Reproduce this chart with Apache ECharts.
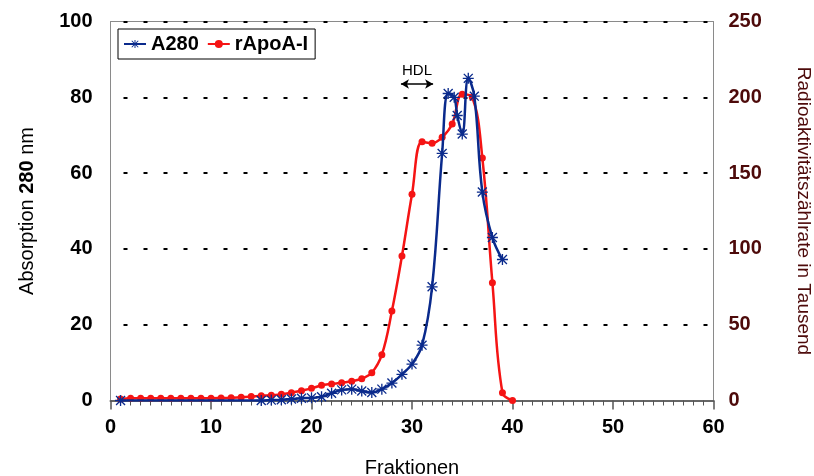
<!DOCTYPE html>
<html>
<head>
<meta charset="utf-8">
<script src="https://cdn.jsdelivr.net/npm/echarts@6/dist/echarts.min.js"></script>
<style>
html,body{margin:0;padding:0;background:#fff;}
#chart{width:814px;height:476px;}
</style>
</head>
<body>
<div id="chart"></div>
<script>
// ---- data ----
var fractionsA280 = [1, 15, 16, 17, 18, 19, 20, 21, 22, 23, 24, 25, 26, 27, 28, 29, 30, 31, 32, 33, 33.6, 34.2, 34.5, 35, 35.6, 36.2, 37, 38, 39];
var a280 = [0, 0, 0.1, 0.2, 0.4, 0.6, 0.7, 1.0, 1.9, 2.8, 3.0, 2.5, 2.1, 3.0, 4.6, 6.9, 9.6, 14.6, 30.0, 65.2, 81, 80, 75.2, 70.3, 85, 80.3, 55, 43, 37.2];
var fractionsApo = [1, 2, 3, 4, 5, 6, 7, 8, 9, 10, 11, 12, 13, 14, 15, 16, 17, 18, 19, 20, 21, 22, 23, 24, 25, 26, 27, 28, 29, 30, 31, 32, 33, 34, 35, 36, 37, 38, 39, 40];
var rApoA = [1, 1.5, 1.5, 1.5, 1.5, 1.5, 1.5, 1.5, 1.5, 1.5, 1.6, 1.8, 2.1, 2.6, 3.2, 3.4, 4.1, 5.1, 6.5, 8.0, 10.0, 10.9, 11.7, 12.7, 14.4, 18.3, 30.2, 59, 95.3, 136, 170.7, 169.7, 173.6, 182.4, 202, 200, 160, 77.7, 5.1, 0];
var leftTicks = {min: 0, max: 100, interval: 20};
var rightTicks = {min: 0, max: 250, interval: 50};
var xTicks = {min: 0, max: 60, interval: 10};
var hdlRange = [28.9, 32.1];
var hdlLevel = 83.5;

function pairs(xs, ys) { return xs.map(function (x, i) { return [x, ys[i]]; }); }

var FONT = 'Liberation Sans, Arial, Helvetica, sans-serif';
var BLUE = '#0a2a8c';
var RED = '#f51414';
var MAROON = '#4d0a0a';
var starPath = 'path://M0 8.8L20 8.8L20 11.2L0 11.2Z M8.8 0L11.2 0L11.2 20L8.8 20Z M1 2.7L2.7 1L19 17.3L17.3 19Z M17.3 1L19 2.7L2.7 19L1 17.3Z';

var chart = echarts.init(document.getElementById('chart'), null, {renderer: 'canvas'});
chart.setOption({
  animation: false,
  textStyle: {fontFamily: FONT},
  grid: {left: 110.5, right: 100.5, top: 21.5, bottom: 75.5, containLabel: false, outerBoundsMode: 'none', show: true, borderColor: '#8a8a8a', borderWidth: 1, backgroundColor: 'transparent'},
  legend: {
    left: 118, top: 29,
    orient: 'horizontal',
    backgroundColor: '#fff',
    borderColor: '#000', borderWidth: 1,
    padding: [5, 7, 5, 5],
    itemWidth: 22, itemHeight: 10, itemGap: 8,
    textStyle: {fontSize: 20, fontWeight: 'bold', color: '#000', fontFamily: FONT},
    data: ['A280', 'rApoA-I']
  },
  xAxis: [{
    type: 'value', min: xTicks.min, max: xTicks.max, interval: xTicks.interval,
    name: 'Fraktionen', nameLocation: 'middle', nameGap: 58,
    nameTextStyle: {fontSize: 20, color: '#000', fontFamily: FONT},
    axisLine: {show: true, lineStyle: {color: '#666', width: 2}},
    axisTick: {show: true, length: 9, lineStyle: {color: '#555', width: 1.5}},
    minorTick: {show: true, splitNumber: 10, length: 5, lineStyle: {color: '#555', width: 1}},
    axisLabel: {fontSize: 20, fontWeight: 'bold', color: '#000', margin: 17, fontFamily: FONT},
    splitLine: {show: false}
  }],
  yAxis: [{
    type: 'value', min: leftTicks.min, max: leftTicks.max, interval: leftTicks.interval,
    position: 'left',
    name: 'Absorption {b|280} nm', nameLocation: 'middle', nameGap: 73,
    nameTextStyle: {fontSize: 20, color: '#000', fontFamily: FONT, rich: {b: {fontSize: 20, fontWeight: 'bold', fontFamily: FONT, color: '#000'}}},
    axisLine: {show: true, lineStyle: {color: '#8a8a8a', width: 1}},
    axisTick: {show: false},
    axisLabel: {fontSize: 20, fontWeight: 'bold', color: '#000', margin: 18, fontFamily: FONT},
    splitLine: {show: true, lineStyle: {color: '#000', width: 2, type: [4, 16], dashOffset: 7}}
  }, {
    type: 'value', min: rightTicks.min, max: rightTicks.max, interval: rightTicks.interval,
    position: 'right',
    name: 'Radioaktivitätszählrate in Tausend', nameLocation: 'middle', nameGap: 80, nameRotate: -90,
    nameTextStyle: {fontSize: 19, color: MAROON, fontFamily: FONT},
    axisLine: {show: true, lineStyle: {color: '#8a8a8a', width: 1}},
    axisTick: {show: false},
    axisLabel: {fontSize: 20, fontWeight: 'bold', color: MAROON, margin: 15, fontFamily: FONT},
    splitLine: {show: false}
  }],
  series: [{
    name: 'rApoA-I', type: 'line', yAxisIndex: 1,
    data: pairs(fractionsApo, rApoA),
    smooth: 0.4,
    symbol: 'circle', symbolSize: 7,
    lineStyle: {color: RED, width: 2.5},
    itemStyle: {color: RED},
    z: 2
  }, {
    name: 'A280', type: 'line', yAxisIndex: 0,
    data: pairs(fractionsA280, a280),
    smooth: 0.4,
    symbol: starPath, symbolSize: 11,
    lineStyle: {color: BLUE, width: 2.5},
    itemStyle: {color: BLUE},
    z: 3,
    markLine: {
      silent: true, animation: false,
      symbol: ['arrow', 'arrow'], symbolSize: [7, 8],
      lineStyle: {color: '#000', width: 1.5, type: 'solid'},
      label: {show: true, position: 'middle', formatter: 'HDL', color: '#000', fontSize: 15, fontFamily: FONT, distance: 6},
      data: [[{coord: [hdlRange[0], hdlLevel]}, {coord: [hdlRange[1], hdlLevel]}]]
    }
  }]
});
</script>
</body>
</html>
